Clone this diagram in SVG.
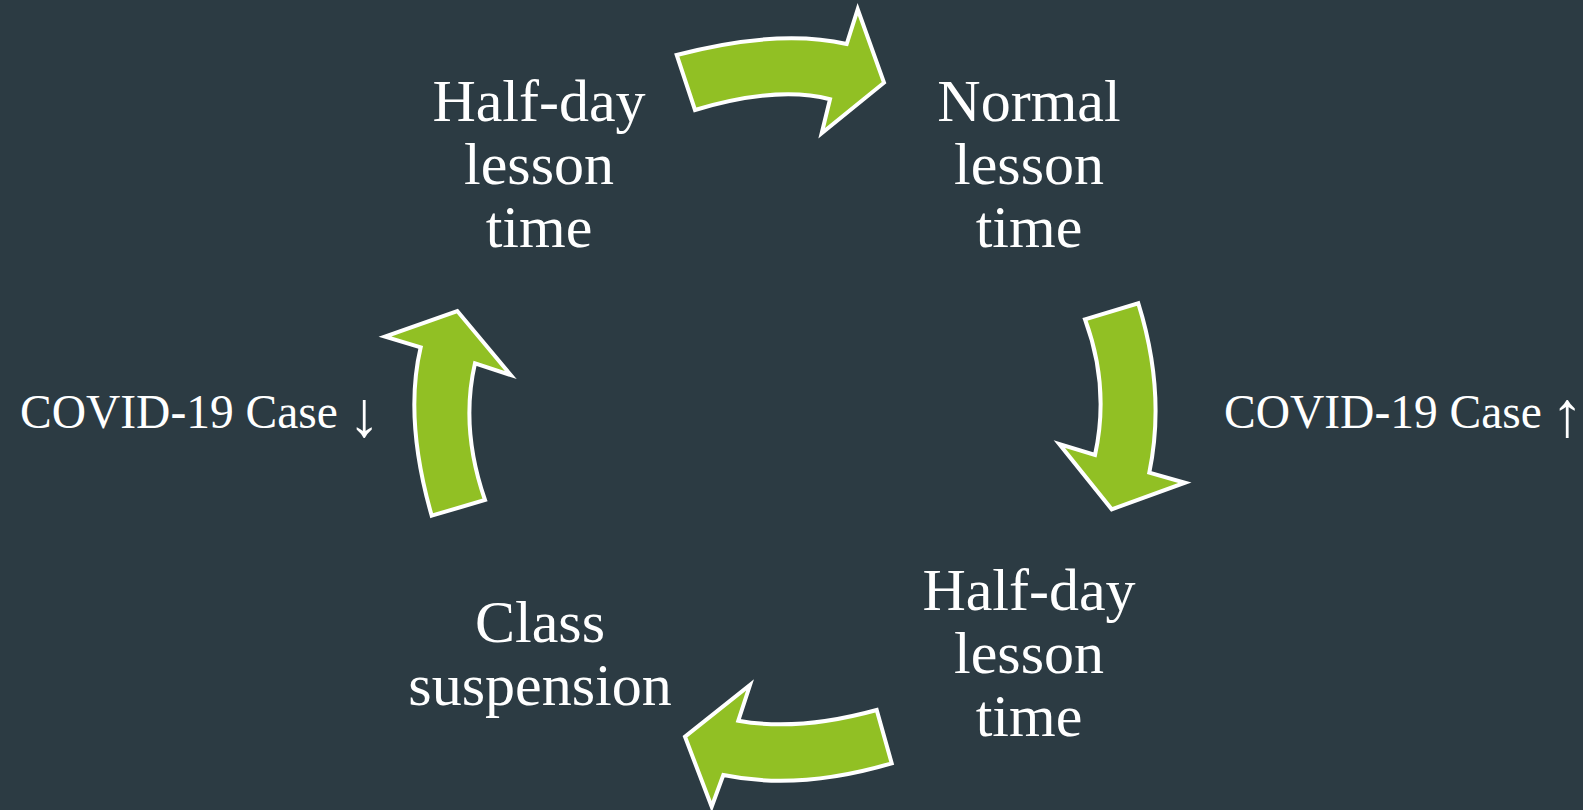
<svg xmlns="http://www.w3.org/2000/svg" width="1583" height="810" viewBox="0 0 1583 810">
<style>
.bg{fill:#2c3b43}
.arr{fill:#91c024;stroke:#ffffff;stroke-width:4;stroke-linejoin:miter}
.lbl{font-family:"Liberation Serif","Times New Roman",serif;font-size:60px;fill:#ffffff;text-anchor:middle}
.side{font-family:"Liberation Serif","Times New Roman",serif;font-size:47.5px;fill:#ffffff}
.sym{font-family:"Liberation Serif","Times New Roman",serif;font-size:64px;fill:#ffffff;text-anchor:middle}
</style>
<rect class="bg" x="0" y="0" width="1583" height="810"/>
<g id="connectors">
<path id="arrow-top" class="arr" d="M676.7,55 Q778,28.5 846.7,44 L857.7,9.3 L884,82.7 L821.7,133.3 L830,99.3 Q777.5,85.4 695,110 Z"/>
<path id="arrow-right" class="arr" d="M1085,319.3 L1138.3,303.3 Q1166,392 1149.3,472.7 L1185,482.7 L1111.7,509.3 L1059.3,444 L1095,455 Q1110,386.8 1085,319.3 Z"/>
<path id="arrow-bottom" class="arr" d="M876.7,710 L891.7,763.3 Q798.5,790.8 723.3,775 L711.7,806.7 L685,736.7 L750,685 L738.3,720.7 Q798.5,731.6 876.7,710 Z"/>
<path id="arrow-left" class="arr" d="M431.7,515.7 L485,500 Q460,428.3 475,363.3 L510.7,375 L457.3,311 L385,336.7 L420.7,347.3 Q403.8,418.5 431.7,515.7 Z"/>
</g>
<g id="node-halfday-top">
<text class="lbl" x="539" y="121">Half-day</text>
<text class="lbl" x="539" y="184">lesson</text>
<text class="lbl" x="539" y="247">time</text>
</g>
<g id="node-normal">
<text class="lbl" x="1029" y="121">Normal</text>
<text class="lbl" x="1029" y="184">lesson</text>
<text class="lbl" x="1029" y="247">time</text>
</g>
<g id="node-halfday-bottom">
<text class="lbl" x="1029" y="610">Half-day</text>
<text class="lbl" x="1029" y="673">lesson</text>
<text class="lbl" x="1029" y="736">time</text>
</g>
<g id="node-suspension">
<text class="lbl" x="540" y="642">Class</text>
<text class="lbl" x="540" y="705">suspension</text>
</g>
<g id="label-down">
<text class="side" x="20" y="428">COVID-19 Case <tspan class="sym" x="364" y="435.5">↓</tspan></text>
</g>
<g id="label-up">
<text class="side" x="1224" y="428">COVID-19 Case <tspan class="sym" x="1567" y="435.5">↑</tspan></text>
</g>
</svg>
